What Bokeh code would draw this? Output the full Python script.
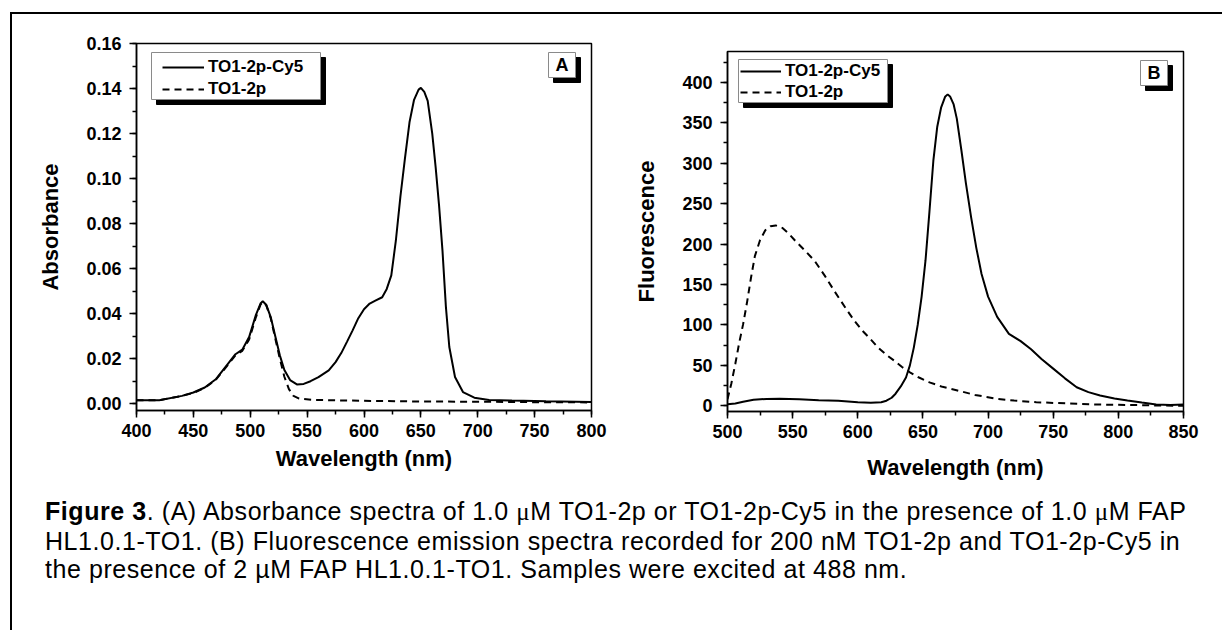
from bokeh.plotting import figure
from bokeh.models import (Legend, LegendItem, Label, SingleIntervalTicker, Range1d,
                          Div, Spacer, PrintfTickFormatter, BoxAnnotation)
from bokeh.layouts import row, column
from bokeh.embed import file_html
from bokeh.resources import INLINE

FONT = "Liberation Sans"

# ---------------- data: panel A (absorbance) ----------------
wl_abs_cy5 = [400, 420, 440, 450, 460, 470, 480, 487, 493, 499, 505, 509, 511, 514, 518, 522,
              526, 530, 535, 541, 547, 553, 560, 569, 575, 580, 585, 590, 595, 600, 605, 610,
              616, 620, 624, 628, 632, 636, 640, 644, 648, 650, 653, 656, 660, 663, 666, 669,
              672, 675, 680, 687, 697, 710, 730, 760, 800]
abs_cy5 = [0.0015, 0.0016, 0.0035, 0.0050, 0.0072, 0.0110, 0.0175, 0.0220, 0.0240, 0.0296,
           0.0395, 0.0445, 0.0455, 0.0440, 0.0385, 0.0300, 0.0215, 0.0150, 0.0105, 0.0086,
           0.0088, 0.0100, 0.0118, 0.0148, 0.0185, 0.0225, 0.0275, 0.0326, 0.0380, 0.0420,
           0.0445, 0.0458, 0.0473, 0.0510, 0.0570, 0.0724, 0.0920, 0.1090, 0.1250, 0.1350,
           0.1395, 0.1403, 0.1385, 0.1345, 0.1200, 0.1050, 0.0880, 0.0680, 0.0430, 0.0252,
           0.0119, 0.0052, 0.0027, 0.0017, 0.0014, 0.0011, 0.0008]

wl_abs_to1 = [400, 420, 440, 450, 460, 470, 480, 487, 493, 499, 505, 509, 511, 514, 518, 522,
              526, 530, 534, 538, 543, 556, 600, 650, 700, 750, 800]
abs_to1 = [0.0015, 0.0016, 0.0035, 0.0048, 0.0070, 0.0108, 0.0170, 0.0215, 0.0235, 0.0285,
           0.0385, 0.0440, 0.0452, 0.0438, 0.0380, 0.0290, 0.0200, 0.0120, 0.0065, 0.0035,
           0.0023, 0.0017, 0.0013, 0.0010, 0.0009, 0.0007, 0.0006]

# ---------------- data: panel B (fluorescence) ----------------
wl_fl_cy5 = [500, 506, 512, 520, 530, 540, 555, 570, 585, 600, 610, 618, 622, 626, 629, 633,
             637, 640, 643, 646, 649, 652, 655, 658, 661, 664, 667, 669, 671, 673.5, 676,
             679.6, 683, 687, 691, 695, 700, 707, 716, 725, 733, 741, 750, 759, 768, 777,
             786, 797, 807, 818, 829, 840, 850]
fl_cy5 = [2, 3, 5, 7.5, 8.6, 8.8, 8, 7, 6.2, 4.5, 3.9, 4.5, 6.3, 10, 15, 24,
          35, 50, 72, 100, 135, 180, 240, 303, 345, 369, 382, 385, 382, 373, 355,
          315, 275, 233, 195, 163, 135, 110, 89, 80, 70, 58, 46, 34, 23, 17,
          12.7, 9, 6.5, 4, 1.6, 1, 1.5]

wl_fl_to1 = [500, 503, 506, 509, 512, 515, 518, 521, 525, 529, 533, 537, 542, 547, 552, 560,
             567, 575, 582, 591, 597, 603.5, 610, 615.6, 622, 627.8, 634, 640, 647, 655, 665,
             676.5, 690, 707, 720, 737, 760, 783, 810, 850]
fl_to1 = [8, 28, 52, 78, 101, 128, 158, 185, 205, 217, 222, 223, 220, 213, 204, 191,
          179, 160, 142, 120, 106, 93, 82, 72, 63, 56, 48, 41.5, 35, 29, 23.5,
          19, 13.5, 8.6, 6.5, 4.5, 3, 1.6, 1, 0]

series_names = ["TO1-2p-Cy5", "TO1-2p"]
panel_letters = ["A", "B"]


def style_axes(p, xint, yint):
    p.xaxis.ticker = SingleIntervalTicker(interval=xint, num_minor_ticks=2)
    p.yaxis.ticker = SingleIntervalTicker(interval=yint, num_minor_ticks=2)
    for ax in p.axis:
        ax.major_tick_in = 0
        ax.major_tick_out = 7
        ax.minor_tick_in = 0
        ax.minor_tick_out = 4
        ax.axis_line_width = 1.5
        ax.major_tick_line_width = 1.5
        ax.minor_tick_line_width = 1.5
        ax.major_label_text_font = FONT
        ax.major_label_text_font_style = "bold"
        ax.major_label_text_font_size = "18px"
        ax.axis_label_text_font = FONT
        ax.axis_label_text_font_style = "bold"
        ax.axis_label_text_font_size = "22px"
        ax.axis_label_text_color = "black"
        ax.major_label_text_color = "black"
    p.xaxis.major_label_standoff = 6
    p.yaxis.major_label_standoff = 8
    p.grid.visible = False
    p.outline_line_color = "black"
    p.outline_line_width = 1.5
    p.outline_line_alpha = 1


def shadow_box(p, left, right, top, bottom):
    """Frame-relative pixel box (y measured up from the frame bottom) with a drop shadow."""
    kw = dict(left_units="screen", right_units="screen", top_units="screen",
              bottom_units="screen", fill_alpha=1, line_alpha=1)
    p.add_layout(BoxAnnotation(left=left + 5, right=right + 5, top=top - 5, bottom=bottom - 5,
                               fill_color="black", line_color="black", line_width=1, **kw))
    p.add_layout(BoxAnnotation(left=left, right=right, top=top, bottom=bottom,
                               fill_color="white", line_color="#8a8a8a", line_width=1, **kw))


def add_legend(p, r_solid, r_dash, x, y, glyph_w, sep):
    leg = Legend(items=[LegendItem(label=series_names[0], renderers=[r_solid]),
                        LegendItem(label=series_names[1], renderers=[r_dash])],
                 location=(x, y), background_fill_alpha=0, border_line_alpha=0,
                 label_text_font=FONT, label_text_font_style="bold",
                 label_text_font_size="17px", label_text_color="black",
                 label_height=20, glyph_height=20, glyph_width=glyph_w,
                 label_standoff=4, spacing=sep, padding=0, margin=0)
    p.add_layout(leg)


def add_letter(p, letter, x, y):
    p.add_layout(Label(x=x, y=y, x_units="screen", y_units="screen", text=letter,
                       text_font=FONT, text_font_style="bold", text_font_size="18px",
                       text_align="center", text_baseline="middle", text_color="black"))


# ---------------- panel A ----------------
pa = figure(width=608, height=480, output_backend="svg", toolbar_location=None,
            x_range=Range1d(400, 800), y_range=Range1d(-0.003, 0.16),
            min_border_left=124, min_border_right=29, min_border_top=29, min_border_bottom=84,
            background_fill_color="white", border_fill_color="white")
ra1 = pa.line(wl_abs_cy5, abs_cy5, line_color="black", line_width=2)
ra2 = pa.line(wl_abs_to1, abs_to1, line_color="black", line_width=2, line_dash="7 5")
style_axes(pa, 50, 0.02)
pa.yaxis.formatter = PrintfTickFormatter(format="%.2f")
pa.xaxis.axis_label = "Wavelength (nm)"
pa.yaxis.axis_label = "Absorbance"
pa.xaxis.axis_label_standoff = 6
pa.yaxis.axis_label_standoff = 20
shadow_box(pa, 15, 184, 358, 311)
add_legend(pa, ra1, ra2, 26, 311, 42, 2)
shadow_box(pa, 412, 439, 358, 333)
add_letter(pa, panel_letters[0], 425.5, 345.5)

# ---------------- panel B ----------------
pb = figure(width=594, height=472, output_backend="svg", toolbar_location=None,
            x_range=Range1d(500, 850), y_range=Range1d(-7, 438),
            min_border_left=107, min_border_right=31, min_border_top=29, min_border_bottom=83,
            background_fill_color="white", border_fill_color="white")
rb1 = pb.line(wl_fl_cy5, fl_cy5, line_color="black", line_width=2)
rb2 = pb.line(wl_fl_to1, fl_to1, line_color="black", line_width=2, line_dash="7 5")
style_axes(pb, 50, 50)
pb.xaxis.axis_label = "Wavelength (nm)"
pb.yaxis.axis_label = "Fluorescence"
pb.xaxis.axis_label_standoff = 14
pb.yaxis.axis_label_standoff = 20
shadow_box(pb, 11, 160, 352, 309)
add_legend(pb, rb1, rb2, 13, 309, 41, 1)
shadow_box(pb, 413, 440, 351, 326)
add_letter(pb, panel_letters[1], 426.5, 338.5)

caption_html = (
    '<div style="font-family:\'Liberation Sans\';font-size:25px;line-height:28.5px;'
    'letter-spacing:0.56px;white-space:nowrap;color:#000;padding-left:33px;padding-top:3px">'
    '<b>Figure 3</b>. (A) Absorbance spectra of 1.0 <span style="font-family:\'Liberation Serif\'">&mu;</span>M '
    'TO1-2p or TO1-2p-Cy5 in the presence of 1.0 <span style="font-family:\'Liberation Serif\'">&mu;</span>M FAP<br>'
    'HL1.0.1-TO1. (B) Fluorescence emission spectra recorded for 200 nM TO1-2p and TO1-2p-Cy5 in<br>'
    'the presence of 2 &micro;M FAP HL1.0.1-TO1. Samples were excited at 488 nm.</div>'
)
caption = Div(text=caption_html, width=1202, height=130, margin=0)

hline = Spacer(width=1210, height=2, margin=0, styles={"background-color": "black"})
vline = Spacer(width=2, height=618, margin=0, styles={"background-color": "black"})

pb_col = column(Spacer(width=10, height=8, margin=0), pb, spacing=0)
inner = column(hline, row(pa, pb_col, spacing=0), caption, spacing=0)
layout = column(Spacer(height=12, width=10, margin=0),
                row(Spacer(width=10, height=10, margin=0), vline, inner, spacing=0),
                spacing=0)

open("out.html", "w").write(file_html(layout, INLINE))
